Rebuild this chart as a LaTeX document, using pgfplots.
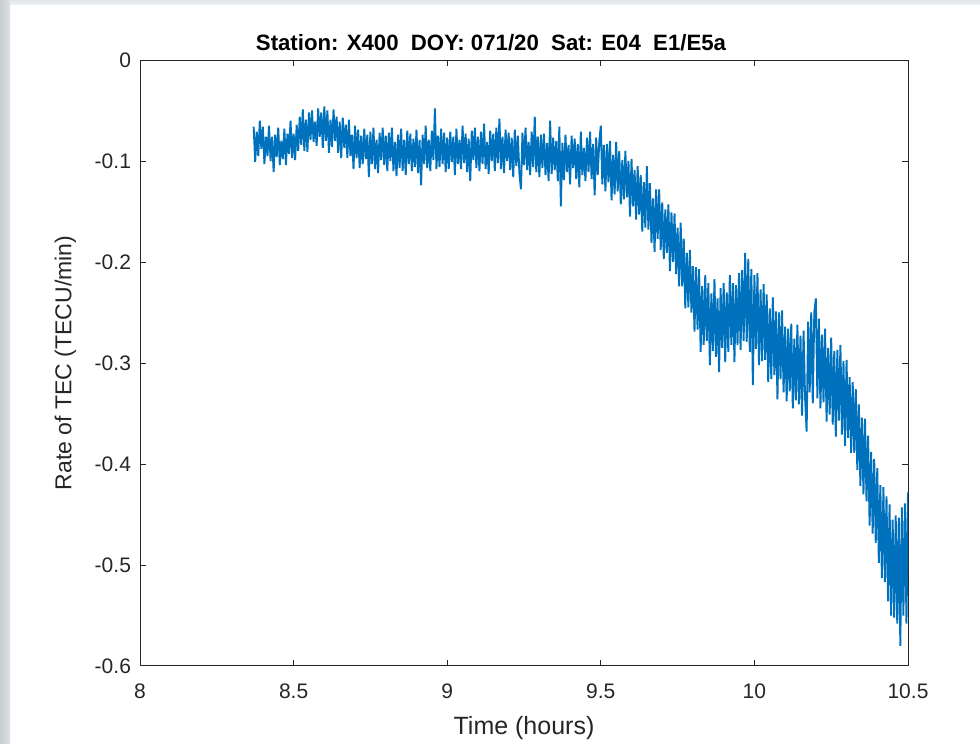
\documentclass[border=0pt]{standalone}
\usepackage{pgfplots}
\pgfplotsset{compat=1.18}
\usepackage{fontspec}
\setmainfont{Liberation Sans}
\definecolor{mblue}{RGB}{0,114,189}
\definecolor{axgray}{RGB}{38,38,38}
\begin{document}
\begin{tikzpicture}
\path[use as bounding box] (0,0) rectangle (490pt,372pt);
\shade[left color={rgb,255:red,200;green,205;blue,208}, right color={rgb,255:red,222;green,225;blue,227}] (0,0) rectangle (5pt,372pt);
\shade[top color={rgb,255:red,228;green,231;blue,233}, bottom color={rgb,255:red,240;green,242;blue,243}] (5pt,369.5pt) rectangle (490pt,372pt);
\begin{axis}[
  at={(70pt,39pt)}, anchor=south west,
  scale only axis, width=384pt, height=303pt,
  xmin=8, xmax=10.5, ymin=-0.6, ymax=0,
  xtick={8,8.5,9,9.5,10,10.5},
  ytick={-0.6,-0.5,-0.4,-0.3,-0.2,-0.1,0},
  yticklabels={-0.6,-0.5,-0.4,-0.3,-0.2,-0.1,0},
  xticklabels={8,8.5,9,9.5,10,10.5},
  tick pos=both, tick align=inside, major tick length=3pt,
  axis line style={axgray, line width=0.5pt},
  every tick/.style={axgray, line width=0.5pt},
  tick label style={font=\fontsize{10.5}{12}\selectfont, text=axgray},
  xticklabel style={yshift=-5.5pt},
  yticklabel style={xshift=-1pt},
  xlabel={Time (hours)},
  ylabel={Rate of TEC (TECU/min)},
  xlabel style={font=\fontsize{12.5}{14}\selectfont, text=axgray, yshift=-2pt},
  ylabel style={font=\fontsize{11.5}{13}\selectfont, text=axgray, yshift=2.5pt},
  title={\bfseries Station: X400\ \ DOY: 071/20\ \ Sat: E04\ \ E1/E5a},
  title style={font=\fontsize{11.1}{13}\selectfont, yshift=-5pt, xshift=-16.5pt},
  clip=true,
]
\addplot[mblue, line width=0.95pt, line join=bevel] coordinates {
(8.370,-0.066)(8.375,-0.101)(8.380,-0.071)(8.385,-0.095)(8.390,-0.060)(8.395,-0.088)(8.400,-0.066)(8.405,-0.103)(8.410,-0.076)(8.415,-0.095)
(8.420,-0.065)(8.425,-0.100)(8.430,-0.076)(8.435,-0.111)(8.440,-0.074)(8.445,-0.096)(8.450,-0.067)(8.455,-0.104)(8.460,-0.080)(8.465,-0.098)
(8.470,-0.068)(8.475,-0.104)(8.480,-0.073)(8.485,-0.093)(8.490,-0.060)(8.495,-0.097)(8.500,-0.073)
(8.505,-0.099)(8.510,-0.064)(8.515,-0.090)(8.520,-0.056)(8.525,-0.084)(8.530,-0.049)(8.535,-0.090)(8.540,-0.059)(8.545,-0.091)(8.550,-0.052)
(8.555,-0.079)(8.560,-0.050)(8.565,-0.081)(8.570,-0.061)(8.575,-0.085)(8.580,-0.048)(8.585,-0.076)(8.590,-0.052)(8.595,-0.087)(8.600,-0.046)
(8.605,-0.080)(8.610,-0.050)(8.615,-0.092)(8.620,-0.059)(8.625,-0.086)(8.630,-0.049)(8.635,-0.080)(8.640,-0.056)(8.645,-0.092)(8.650,-0.061)
(8.655,-0.097)(8.660,-0.057)(8.665,-0.087)(8.670,-0.064)(8.675,-0.097)(8.680,-0.059)(8.685,-0.095)(8.690,-0.074)(8.695,-0.108)(8.700,-0.065)
(8.705,-0.097)(8.710,-0.069)(8.715,-0.107)(8.720,-0.075)(8.725,-0.103)(8.730,-0.068)(8.735,-0.098)(8.740,-0.074)(8.745,-0.116)(8.750,-0.071)
(8.755,-0.103)(8.760,-0.067)(8.765,-0.108)(8.770,-0.079)(8.775,-0.112)(8.780,-0.072)(8.785,-0.099)(8.790,-0.067)(8.795,-0.104)(8.800,-0.075)
(8.805,-0.110)(8.810,-0.072)(8.815,-0.100)(8.820,-0.067)(8.825,-0.110)(8.830,-0.081)(8.835,-0.115)(8.840,-0.074)(8.845,-0.107)(8.850,-0.068)
(8.855,-0.110)(8.860,-0.079)(8.865,-0.114)(8.870,-0.070)(8.875,-0.103)(8.880,-0.073)(8.885,-0.110)(8.890,-0.078)(8.895,-0.106)(8.900,-0.069)
(8.905,-0.112)(8.910,-0.079)(8.915,-0.124)(8.920,-0.074)(8.925,-0.103)(8.930,-0.065)(8.935,-0.107)(8.940,-0.079)(8.945,-0.110)(8.950,-0.070)
(8.955,-0.099)(8.960,-0.048)(8.965,-0.108)(8.970,-0.075)(8.975,-0.106)(8.980,-0.068)(8.985,-0.103)(8.990,-0.072)(8.995,-0.111)(9.000,-0.077)
(9.005,-0.108)(9.010,-0.071)(9.015,-0.101)(9.020,-0.076)(9.025,-0.114)(9.030,-0.068)(9.035,-0.103)(9.040,-0.079)(9.045,-0.108)(9.050,-0.065)
(9.055,-0.102)(9.060,-0.073)(9.065,-0.111)(9.070,-0.078)(9.075,-0.120)(9.080,-0.070)(9.085,-0.099)(9.090,-0.067)(9.095,-0.107)(9.100,-0.076)
(9.105,-0.110)(9.110,-0.071)(9.115,-0.103)(9.120,-0.063)(9.125,-0.108)(9.130,-0.081)(9.135,-0.113)(9.140,-0.070)(9.145,-0.100)(9.150,-0.073)
(9.155,-0.110)(9.160,-0.067)(9.165,-0.102)(9.170,-0.058)(9.175,-0.108)(9.180,-0.076)(9.185,-0.112)(9.190,-0.069)(9.195,-0.100)(9.200,-0.072)
(9.205,-0.109)(9.210,-0.077)(9.215,-0.116)(9.220,-0.069)(9.225,-0.105)(9.230,-0.075)(9.235,-0.112)(9.240,-0.128)(9.245,-0.072)(9.250,-0.104)
(9.255,-0.067)(9.260,-0.109)(9.265,-0.081)(9.270,-0.114)(9.275,-0.071)(9.280,-0.106)(9.285,-0.056)(9.290,-0.111)(9.295,-0.076)(9.300,-0.116)
(9.305,-0.074)(9.310,-0.107)(9.315,-0.073)(9.320,-0.114)(9.325,-0.082)(9.330,-0.120)(9.335,-0.060)(9.340,-0.113)(9.345,-0.077)(9.350,-0.109)
(9.355,-0.080)(9.360,-0.120)(9.365,-0.066)(9.370,-0.145)(9.375,-0.082)(9.380,-0.119)(9.385,-0.074)(9.390,-0.111)(9.395,-0.084)(9.400,-0.123)
(9.405,-0.075)(9.410,-0.107)(9.415,-0.078)(9.420,-0.118)(9.425,-0.083)(9.430,-0.126)(9.435,-0.071)(9.440,-0.114)(9.445,-0.087)(9.450,-0.120)
(9.455,-0.077)(9.460,-0.111)(9.465,-0.071)(9.470,-0.118)(9.475,-0.083)(9.480,-0.134)(9.485,-0.077)(9.490,-0.114)(9.495,-0.081)(9.500,-0.065)
(9.505,-0.123)(9.510,-0.084)(9.515,-0.130)(9.520,-0.083)(9.525,-0.121)(9.530,-0.080)(9.535,-0.139)(9.540,-0.094)(9.545,-0.133)(9.550,-0.081)
(9.555,-0.130)(9.560,-0.090)(9.565,-0.143)(9.570,-0.099)(9.575,-0.138)(9.580,-0.090)(9.585,-0.136)(9.590,-0.100)(9.595,-0.155)(9.600,-0.098)
(9.605,-0.145)(9.610,-0.109)(9.615,-0.158)(9.620,-0.105)(9.625,-0.153)(9.630,-0.114)(9.635,-0.170)(9.640,-0.121)(9.645,-0.166)(9.650,-0.105)
(9.655,-0.168)(9.660,-0.122)(9.665,-0.181)(9.670,-0.137)(9.675,-0.190)(9.680,-0.128)(9.685,-0.177)(9.690,-0.128)(9.695,-0.188)(9.700,-0.141)
(9.705,-0.197)(9.710,-0.148)(9.715,-0.191)(9.720,-0.143)(9.725,-0.209)(9.730,-0.151)(9.735,-0.200)(9.740,-0.152)(9.745,-0.212)(9.750,-0.166)
(9.755,-0.224)(9.760,-0.161)(9.765,-0.224)(9.770,-0.177)(9.775,-0.246)(9.780,-0.191)(9.785,-0.245)(9.790,-0.188)(9.795,-0.250)(9.800,-0.204)
(9.805,-0.269)(9.810,-0.205)(9.815,-0.267)(9.820,-0.207)(9.825,-0.289)(9.830,-0.224)(9.835,-0.282)(9.840,-0.213)(9.845,-0.278)(9.850,-0.221)
(9.855,-0.302)(9.860,-0.231)(9.865,-0.288)(9.870,-0.217)(9.875,-0.294)(9.880,-0.236)(9.885,-0.309)(9.890,-0.226)(9.895,-0.285)(9.900,-0.221)
(9.905,-0.299)(9.910,-0.230)(9.915,-0.289)(9.920,-0.213)(9.925,-0.282)(9.930,-0.221)(9.935,-0.299)(9.940,-0.223)(9.945,-0.282)(9.950,-0.211)
(9.955,-0.287)(9.960,-0.208)(9.965,-0.278)(9.970,-0.191)(9.975,-0.279)(9.980,-0.197)(9.985,-0.289)(9.990,-0.207)(9.995,-0.322)(10.000,-0.213)
(10.005,-0.286)(10.010,-0.211)(10.015,-0.302)(10.020,-0.227)(10.025,-0.298)(10.030,-0.222)(10.035,-0.297)(10.040,-0.232)(10.045,-0.319)(10.050,-0.246)
(10.055,-0.316)(10.060,-0.235)(10.065,-0.312)(10.070,-0.249)(10.075,-0.336)(10.080,-0.250)(10.085,-0.316)(10.090,-0.248)(10.095,-0.329)(10.100,-0.264)
(10.105,-0.338)(10.110,-0.266)(10.115,-0.328)(10.120,-0.261)(10.125,-0.345)(10.130,-0.276)(10.135,-0.337)(10.140,-0.262)(10.145,-0.341)(10.150,-0.273)
(10.155,-0.352)(10.160,-0.268)(10.165,-0.335)(10.170,-0.368)(10.175,-0.259)(10.180,-0.329)(10.185,-0.250)(10.190,-0.340)(10.195,-0.250)(10.200,-0.236)
(10.205,-0.335)(10.210,-0.256)(10.215,-0.345)(10.220,-0.272)(10.225,-0.339)(10.230,-0.266)(10.235,-0.358)(10.240,-0.285)(10.245,-0.351)(10.250,-0.275)
(10.255,-0.361)(10.260,-0.288)(10.265,-0.373)(10.270,-0.287)(10.275,-0.357)(10.280,-0.282)(10.285,-0.371)(10.290,-0.298)(10.295,-0.382)(10.300,-0.297)
(10.305,-0.374)(10.310,-0.314)(10.315,-0.389)(10.320,-0.319)(10.325,-0.389)(10.330,-0.326)(10.335,-0.406)(10.340,-0.341)(10.345,-0.422)(10.350,-0.354)
(10.355,-0.430)(10.360,-0.355)(10.365,-0.437)(10.370,-0.372)(10.375,-0.461)(10.380,-0.388)(10.385,-0.469)(10.390,-0.395)(10.395,-0.478)(10.400,-0.404)
(10.405,-0.498)(10.410,-0.421)(10.415,-0.513)(10.420,-0.423)(10.425,-0.517)(10.430,-0.432)(10.435,-0.536)(10.440,-0.440)(10.445,-0.550)(10.450,-0.455)
(10.455,-0.552)(10.460,-0.451)(10.465,-0.558)(10.470,-0.453)(10.475,-0.580)(10.480,-0.443)(10.485,-0.550)(10.490,-0.439)(10.495,-0.558)(10.500,-0.428)
};
\end{axis}
\end{tikzpicture}
\end{document}
